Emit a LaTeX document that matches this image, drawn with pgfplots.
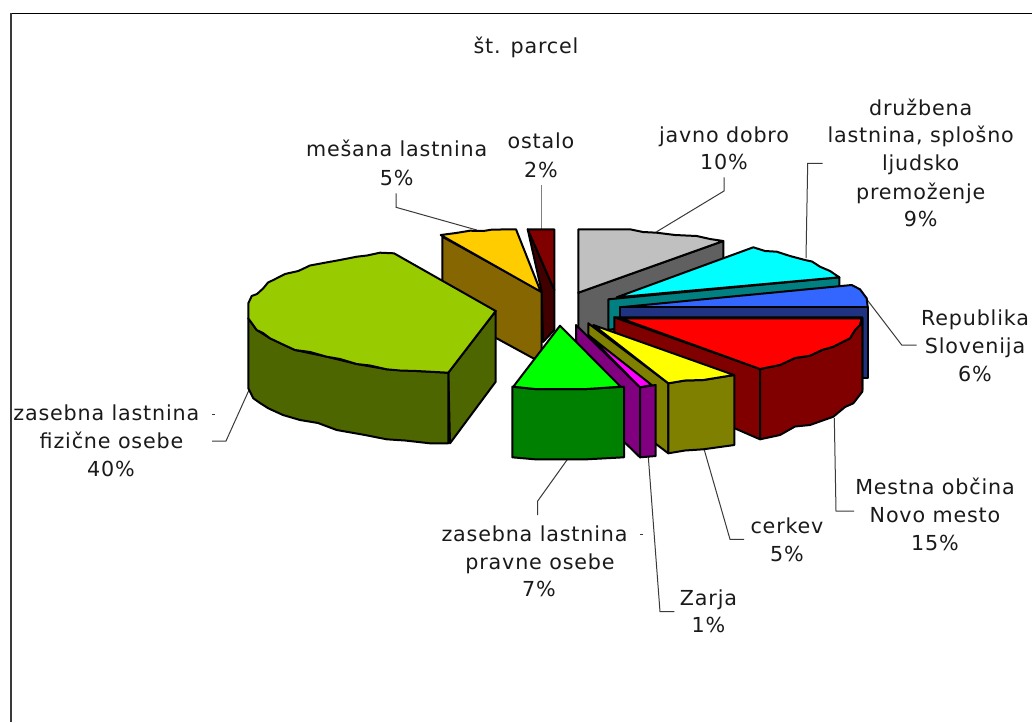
\documentclass[border=0pt]{standalone}
\usepackage{pgfplots}
\usepackage{fontspec}
\setmainfont[LetterSpace=4]{DejaVu Sans}
\pgfplotsset{compat=1.18}
\definecolor{txt}{HTML}{1A1A1A}
\definecolor{lead}{HTML}{3A3A3A}
\definecolor{osside}{HTML}{400000}
\definecolor{ostop}{HTML}{800000}
\definecolor{orside}{HTML}{856600}
\definecolor{ortop}{HTML}{FFCC00}
\definecolor{olivetop}{HTML}{99CC00}
\definecolor{oliveside}{HTML}{4D6600}
\definecolor{greyside}{HTML}{606060}
\definecolor{greytop}{HTML}{C0C0C0}
\definecolor{tealside}{HTML}{008080}
\definecolor{cyantop}{HTML}{00FFFF}
\definecolor{blueside}{HTML}{1F3380}
\definecolor{bluetop}{HTML}{3366FF}
\definecolor{redside}{HTML}{800000}
\definecolor{redtop}{HTML}{FF0000}
\definecolor{olside}{HTML}{808000}
\definecolor{yeltop}{HTML}{FFFF00}
\definecolor{purp}{HTML}{800080}
\definecolor{magtop}{HTML}{FF00FF}
\definecolor{dgreen}{HTML}{008000}
\definecolor{lgreen}{HTML}{00FF00}
\newcommand\piece[2]{\addplot[fill=#1,draw=black,line width=1.5pt,line join=round] coordinates {#2} -- cycle;}
\newcommand\lead[1]{\addplot[draw=lead,line width=0.75pt] coordinates {#1};}
\newcommand\lbl[3]{\node[anchor=base,inner sep=0pt,text=txt,font=\fontsize{15.5}{18}\selectfont] at (axis cs:#1,#2) {#3};}
\begin{document}
\begin{tikzpicture}
\begin{axis}[
scale only axis,
width=774pt,
height=541.5pt,
xmin=0,xmax=1032,
ymin=0,ymax=722,
y dir=reverse,
hide axis,
clip=true
]
% frame
\addplot[draw=none,fill=white] coordinates {(0,0) (1032,0) (1032,722) (0,722)} -- cycle;
\addplot[draw=black,line width=1.1pt] coordinates {(1032,13.5) (10,13.5)};
\addplot[draw=lead,line width=1.5pt] coordinates {(10.5,13) (10.5,722)};
% leaders behind the pie
\lead{(396,193.3) (396,207.3) (476.7,230)}
\addplot[draw=gray,line width=1.1pt] coordinates {(541.7,185) (541.7,229)};
\lead{(724,177.3) (724,191) (656.7,231.7)}
\lead{(822.7,163.3) (807.7,163.3) (806,258)}
\lead{(916.7,345) (901.7,345) (866,298.3)}
\lead{(854,511) (836,511) (834.3,418)}
\lead{(744,539.3) (730,539.3) (704.3,450)}
\lead{(674.3,611.7) (660,611.7) (648.3,456.7)}
\lead{(537.7,515) (537.7,501) (567.7,459)}
\lead{(212,441) (226,441) (249,390)}
\lead{(212,414) (214.5,414)}
\lead{(640,534) (642.5,534)}
% ostalo
\piece{osside}{(527.7,229.3) (541.7,291.7) (543,342) (554.3,330) (554.3,290)}
\piece{ostop}{(527.7,229.3) (554.3,229.3) (554.3,290)}
% mesana lastnina
\piece{orside}{(442.3,236.7) (541.7,291.7) (541.7,358) (533.3,358.3) (442.3,308.7)}
\piece{ortop}{(440.7,235) (456,233) (470,230.7) (483.3,231) (492,229.6) (516,229.3) (540.7,291.7)}
% zasebna fizicne
\piece{oliveside}{(448.3,372.7) (495.7,311) (495.7,381.7) (450,443.3)}
\piece{oliveside}{(248.3,318.3) (248.3,388.3) (253.3,398.3) (260,403) (268.3,408.3) (283,415) (300,420) (318,423) (336.7,430) (365,435) (386.7,439.3) (405,440.5) (430,443.3) (448.3,443.3) (448.3,372.7) (416.7,371) (386.7,369.3) (356.7,364) (326.7,356.7) (295,350) (270,338.3) (256.7,330)}
\piece{olivetop}{(248.3,303.3) (251.7,296) (257,294) (263.3,288.3) (268,282.5) (273.3,280) (285,274) (298.3,271) (310,265.5) (325,262.7) (340,260) (356.7,256.7) (367,255.5) (380,252.7) (394,253.3) (495.7,311) (448.3,372.7) (416.7,371) (400,370.5) (386.7,369.3) (370,365.5) (356.7,364) (340,359) (326.7,356.7) (310,352) (295,350) (282,344) (270,338.3) (263,333) (256.7,330) (248.3,318.3)}
% javno dobro
\piece{greyside}{(578.3,292.7) (723.3,241) (723.3,290) (578.3,345)}
\piece{greytop}{(578.3,229.3) (630,229.3) (643,232) (656.7,232.7) (675,235) (696.7,236) (710,239) (723.3,241) (578.3,292.7)}
% druzbena
\piece{tealside}{(608.3,299.3) (839.3,277.3) (839.3,287) (608.3,330)}
\piece{cyantop}{(616.7,297.3) (753.3,247.3) (765,251) (776.7,251.7) (790,256) (805,260) (812,261.5) (820,266.7) (830,271) (839.3,277.3)}
% republika
\piece{bluetop}{(620,307.3) (851.7,285) (860,289.3) (866.7,298.3) (867.7,307.3)}
\piece{blueside}{(620,307.3) (867.7,307.3) (867.7,377.5) (620,377.5)}
% mestna obcina
\piece{redside}{(614.3,317.3) (862.3,317.3) (862.3,390) (760,400)}
\piece{redside}{(614.3,317.3) (760,369) (760,439.3) (734,428) (614.3,380)}
\piece{redside}{(760,369) (780,365) (795,358) (810,355.7) (822,350) (833.3,346.7) (850,338.3) (855,330) (860,325) (862.3,318.3) (862.3,391.7) (853.3,403.3) (845,407) (833.3,416.7) (810,425) (795,426.5) (780,435) (760,439.3)}
\piece{redtop}{(620.7,318.3) (861.7,318.3) (860,325) (855,330) (850,338.3) (833.3,346.7) (822,350) (810,355.7) (795,358) (780,365) (760,369)}
% cerkev
\piece{olside}{(588.3,323.3) (668.3,383.3) (668.3,453.3) (588.3,393)}
\piece{olside}{(668.3,383.3) (685,380.5) (703.3,380) (734.3,375) (734.3,445) (703.3,449.3) (685,450.5) (668.3,453.3)}
\piece{yeltop}{(593.3,325) (734,375) (703.3,380) (685,380.5) (668.3,383.3)}
% zarja
\piece{purp}{(576,325) (640,387.3) (640,457.3) (576,395)}
\piece{purp}{(640,387.3) (655.7,385) (655.7,456) (640,457.3)}
\piece{magtop}{(588.3,335) (651.7,385) (640,387.3)}
% zasebna pravne
\piece{dgreen}{(512.3,386.7) (535,389) (586.7,389) (624,386.7) (624,457.3) (586.7,459.3) (535,459.3) (512.3,457.3)}
\piece{lgreen}{(560,325.7) (620.7,386.7) (586.7,389) (535,389) (513.3,386.7)}
% labels
\lbl{526}{53}{št. parcel}
\lbl{396.7}{156.7}{mešana lastnina}
\lbl{396.7}{185}{5\%}
\lbl{541}{148.3}{ostalo}
\lbl{541}{177.3}{2\%}
\lbl{724}{142.7}{javno dobro}
\lbl{724}{169.3}{10\%}
\lbl{920.7}{115}{družbena}
\lbl{920.7}{142.7}{lastnina, splošno}
\lbl{920.7}{170.7}{ljudsko}
\lbl{920.7}{199}{premoženje}
\lbl{920.7}{226.7}{9\%}
\lbl{975}{325}{Republika}
\lbl{975}{353}{Slovenija}
\lbl{975}{381.7}{6\%}
\lbl{935}{494}{Mestna občina}
\lbl{935}{522}{Novo mesto}
\lbl{935}{550}{15\%}
\lbl{787}{533}{cerkev}
\lbl{787}{561}{5\%}
\lbl{708.5}{605}{Zarja}
\lbl{708.5}{632.7}{1\%}
\lbl{534.5}{541}{zasebna lastnina}
\lbl{540}{569}{pravne osebe}
\lbl{539}{596.7}{7\%}
\lbl{106.3}{420}{zasebna lastnina}
\lbl{111.5}{448}{fizične osebe}
\lbl{111}{476.7}{40\%}
\end{axis}
\pgfresetboundingbox
\path[use as bounding box] (0,0) rectangle (774pt,541.5pt);
\end{tikzpicture}
\end{document}
